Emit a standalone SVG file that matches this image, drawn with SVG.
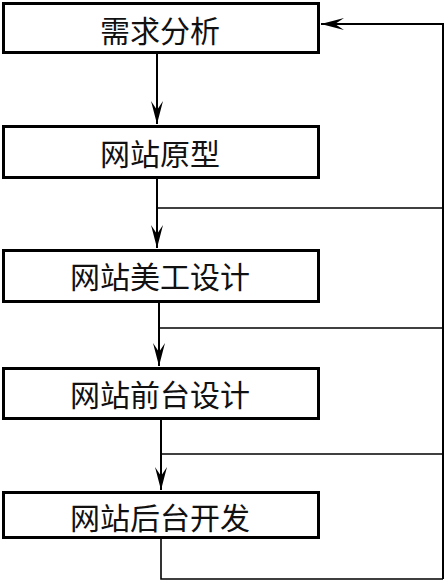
<svg xmlns="http://www.w3.org/2000/svg" width="445" height="581" viewBox="0 0 445 581">
<style>
.box{fill:#fff;stroke:#000;stroke-width:3}
.lbl{font-family:"Noto Sans CJK SC","Noto Sans",sans-serif;font-size:30px;fill:#111;text-anchor:middle}
.ln{fill:none;stroke:#000;stroke-width:2}
.fb{fill:none;stroke:#000;stroke-width:1.6}
</style>
<defs>
<marker id="ah" markerUnits="userSpaceOnUse" markerWidth="26" markerHeight="14" viewBox="-24 -7 26 14" refX="0" refY="0" orient="auto">
<path d="M0,0 L-23,-6 L-14,0 L-23,6 Z" fill="#000"/>
</marker>
</defs>
<g id="connectors">
<line class="ln" x1="157" y1="54" x2="157" y2="124" marker-end="url(#ah)"/>
<line class="ln" x1="157" y1="179" x2="157" y2="248" marker-end="url(#ah)"/>
<line class="ln" x1="159" y1="303" x2="159" y2="366" marker-end="url(#ah)"/>
<line class="ln" x1="161" y1="420" x2="161" y2="490" marker-end="url(#ah)"/>
<polyline class="fb" points="161,539 161,579 443,579"/>
<line class="fb" x1="157" y1="208" x2="443" y2="208"/>
<line class="fb" x1="159" y1="328" x2="443" y2="328"/>
<line class="fb" x1="161" y1="454" x2="443" y2="454"/>
<polyline class="ln" points="443,579 443,24 321,24" marker-end="url(#ah)"/>
</g>
<g id="n1"><rect class="box" x="3.5" y="3.5" width="315" height="49"/><text class="lbl" x="160" y="42">需求分析</text></g>
<g id="n2"><rect class="box" x="3.5" y="126.5" width="315" height="51"/><text class="lbl" x="160" y="165">网站原型</text></g>
<g id="n3"><rect class="box" x="3.5" y="250.5" width="315" height="51"/><text class="lbl" x="160" y="288">网站美工设计</text></g>
<g id="n4"><rect class="box" x="3.5" y="368.5" width="315" height="50"/><text class="lbl" x="160" y="406">网站前台设计</text></g>
<g id="n5"><rect class="box" x="3.5" y="492.5" width="315" height="45"/><text class="lbl" x="160" y="529">网站后台开发</text></g>
</svg>
